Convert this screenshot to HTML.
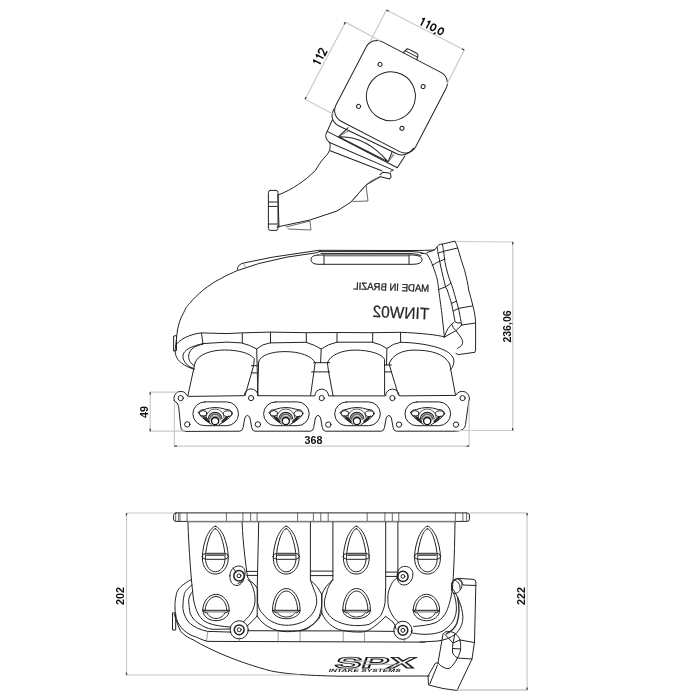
<!DOCTYPE html>
<html><head><meta charset="utf-8">
<style>
html,body{margin:0;padding:0;background:#fff;width:700px;height:700px;overflow:hidden}
svg{display:block;filter:grayscale(1)}
.l{fill:none;stroke:#222;stroke-width:1;stroke-linejoin:round;stroke-linecap:round}
.t{fill:none;stroke:#555;stroke-width:0.6}
.d{fill:none;stroke:#cacaca;stroke-width:1.2}
.tk{fill:none;stroke:#444;stroke-width:1.3}
.dt{font-family:"Liberation Sans",sans-serif;font-weight:bold;font-size:11.7px;fill:#111}
</style></head><body>
<svg width="700" height="700" viewBox="0 0 700 700">
<defs>
 <g id="port">
  <rect class="l" x="-22.8" y="-11.9" width="45.6" height="23.8" rx="11.9"/>
  <path d="M-14,1.2 L-9.5,3.2 L-5.5,7.5 L-6.5,9.5 L-11,6 Z M13.8,1.4 L9.5,3.4 L5.5,7.5 L6.5,9.5 L11,6 Z" fill="#2a2a2a"/>
  <path class="l" d="M-17.4,-1.4 Q-16,-4.3 -11.5,-4.3 Q-6,-6.2 -0.6,-6.3 Q5,-6.2 10.5,-4.3 Q15.5,-4.5 16.8,-0.4 Q14.5,4 9,7.5 L3.5,10.8 M-17.4,-1.4 Q-14.5,4 -9.5,7 L-4.5,10.5"/>
  <ellipse class="l" cx="-12.6" cy="-0.4" rx="3.9" ry="2.8"/>
  <ellipse class="l" cx="12" cy="-0.1" rx="4.3" ry="2.9"/>
  <path d="M-9.6,4.2 A9,9 0 0 1 8.4,4.2" fill="none" stroke="#333" stroke-width="0.8"/>
  <path d="M-7.6,5.5 A7,7 0 0 1 6.4,5.5" fill="none" stroke="#2a2a2a" stroke-width="1.2"/>
  <path d="M-6.2,6 A5.6,5.6 0 0 1 5,6" fill="none" stroke="#6a6a6a" stroke-width="1.8"/>
  <path d="M-4.6,6.5 A4,4 0 0 1 3.4,6.5" fill="none" stroke="#9a9a9a" stroke-width="1.4"/>
  <circle cx="-0.6" cy="7.3" r="3.6" fill="#fff" stroke="#111" stroke-width="1.3"/>
 </g>

 <g id="tear">
  <path class="l" d="M0,-31.5 C2.5,-31.5 6.5,-26 8.65,-21.3 C10.7,-16 12.95,-8 12.95,0 C12.95,10 7,16.4 0,16.4 C-7,16.4 -12.95,10 -12.95,0 C-12.95,-8 -10.7,-16 -8.65,-21.3 C-6.5,-26 -2.5,-31.5 0,-31.5 Z"/>
  <path class="l" d="M0,-29 C2,-29 4.5,-24.5 6,-20.5 C7.8,-15 9.8,-7 9.8,0 C9.8,9 5,14.1 0,14.1 C-5,14.1 -9.8,9 -9.8,0 C-9.8,-7 -7.8,-15 -6,-20.5 C-4.5,-24.5 -2,-29 0,-29 Z"/>
  <path class="l" d="M-13.3,-1.3 Q-12.5,-4.4 -9,-4.4 L9,-4.4 Q12.5,-4.4 13.3,-1.3 M-13.3,-1.3 Q-12.5,1.6 -9,1.6 L9,1.6 Q12.5,1.6 13.3,-1.3"/>
  <path d="M-9,-2.6 L9,-2.6" stroke="#222" stroke-width="1.3"/>
 </g>
 <g id="oval">
  <path class="l" d="M-13.2,2.5 C-13.2,-6 -7,-13.2 0,-13.2 C7,-13.2 13.2,-6 13.2,2.5 C13.2,9 7,13.2 0,13.2 C-7,13.2 -13.2,9 -13.2,2.5 Z"/>
  <path class="l" d="M-10.8,2.5 C-10.8,-4.5 -5.5,-11 0,-11 C5.5,-11 10.8,-4.5 10.8,2.5"/>
  <path d="M-12.5,3.2 L12.5,3.2 L11.5,5.2 L-11.5,5.2 Z" fill="#aaa"/>
  <path d="M-13.5,2.8 L13.5,2.8" stroke="#222" stroke-width="1"/>
  <path class="l" d="M-13.2,3 L-10,5.5 M13.2,3 L10,5.5 M-9,5.2 C-7,9.5 -3,11 0,11 C3,11 7,9.5 9,5.2"/>
 </g>

 <g id="oval2">
  <path class="l" d="M-13.8,2.5 C-13.8,-10 -7,-19 0,-19 C7,-19 13.8,-10 13.8,2.5 C13.8,8 7,11.2 0,11.2 C-7,11.2 -13.8,8 -13.8,2.5 Z"/>
  <path class="l" d="M-11.3,2.5 C-11.3,-8.5 -5.5,-16.5 0,-16.5 C5.5,-16.5 11.3,-8.5 11.3,2.5"/>
  <path d="M-12.5,3.2 L12.5,3.2 L11.5,5.2 L-11.5,5.2 Z" fill="#aaa"/>
  <path d="M-14,2.8 L14,2.8" stroke="#222" stroke-width="1"/>
  <path class="l" d="M-13.8,3 L-10,5.5 M13.8,3 L10,5.5 M-9,5.2 C-7,8.5 -3,9.5 0,9.5 C3,9.5 7,8.5 9,5.2"/>
 </g>
</defs>
<!-- ===== TOP: throttle adapter ===== -->
<g id="top">
 <g transform="translate(390.2,97.6) rotate(27.5)">
  <rect class="l" x="-44.65" y="-45.8" width="90" height="89.4" rx="12"/>
  <path class="l" d="M-44.6,36 C-44.8,44 -40,48.8 -32.8,48.8 L31.8,46.8 C38.5,46.5 42.5,42 44.2,34"/>
  <circle class="l" cx="0" cy="-1.5" r="24.5"/>
  <circle class="l" cx="-24.3" cy="-24.8" r="2"/>
  <circle class="l" cx="24.1" cy="-25" r="2"/>
  <circle class="l" cx="-24" cy="22.4" r="2"/>
  <circle class="l" cx="24.6" cy="21.8" r="2"/>
  <path class="l" d="M-9,-45.8 L-8,-50 Q-7.5,-51.5 -6,-51.5 L3,-51.5 Q5,-51.5 5.5,-49.5 L6,-45.8 M-8,-48.5 L5,-48.5"/>
  <path class="l" d="M-41,46.6 L-40.3,59.3 Q-40.8,66.5 -33,67.8 L36.2,62.9 M-39.7,59 L38.7,59 L40,45 M-28.6,74.9 L26.3,68.8 M36.2,62.9 L34.5,65.2"/>
  <path class="l" d="M-27.7,58.5 Q-4,45 27.8,57.9 M-27.7,58.5 L27.8,57.9 M-27.7,58.5 L-23.3,46.1 M27.8,57.9 L26.8,47.5"/>
  <path class="t" d="M-27.7,58.5 L-21,48 M-27.7,58.5 L-24,50 M27.8,57.9 L30,49 M27.8,57.9 L29,48"/>
  <path class="l" d="M26.5,73 L28,69.5 L35,67 L37.5,70 L36.9,72.5 L28,74.6"/>
 </g>
 <path class="l" d="M329.6,142.5 C331.5,148 329,153 325,157 C321,161 318,166 315.7,170.1 C306,180 292,190 278,195"/>
 <rect class="l" x="268.4" y="190.4" width="9.6" height="40" rx="2"/>
 <path class="l" d="M268.4,202 L277,202 M268.4,206.4 L277,206.4 M268.4,224 L277,224 M278,195 L279,227"/>
 <path class="l" d="M277,227 L310,220 L337,211 L351,202 L366,185 L380,177"/>
 <path class="l" d="M286,227 L310,221 L311,230 L288,229 M351,202 L366,185 L368,201 L353,201.5 M366,185 L371,181 L381,176" style="stroke:#444;stroke-width:0.8"/>

 <!-- dims -->
 <path class="d" d="M386.4,10 L464.3,50 M386.4,10 L370,42 M464.3,50 L447,84"/>
 <path class="d" d="M345.4,22.1 L305,99.3 M345.4,22.1 L380,40.7 M305,99.3 L335,115"/>
 <g transform="translate(420.6,25.4) rotate(27.2)" fill="none" stroke="#111" stroke-width="1.5" stroke-linejoin="round">
  <path d="M-1.6,-6.3 L0.3,-8 L0.3,0 M4.6,-6.3 L6.5,-8 L6.5,0 M16.6,-0.6 L15.6,2"/>
  <ellipse cx="12.1" cy="-4.05" rx="2.25" ry="3.35"/><ellipse cx="20.6" cy="-4.05" rx="2.25" ry="3.35"/>
 </g>
 <g transform="translate(320.7,64) rotate(-62.8)" fill="none" stroke="#111" stroke-width="1.5" stroke-linejoin="round">
  <path d="M-1.6,-6.3 L0.3,-8 L0.3,0 M4.4,-6.3 L6.3,-8 L6.3,0 M9.3,-5.9 C9.4,-7.5 10.4,-8.1 11.6,-8.1 C12.9,-8.1 13.9,-7.3 13.9,-6 C13.9,-4.6 13,-3.7 9.3,-0.1 L14.3,-0.1"/>
 </g>
</g>
<!-- ===== MIDDLE: side view ===== -->
<g id="mid">
 <!-- plenum outline -->
 <path class="l" d="M175.7,346 L176.9,334.3 C177.5,328 180,318 183.7,312.6 C186,307 188,305 190.6,302.3 C194,298 197,295.5 199.7,293.1 C203,290 207,287 210,285.1 C214,282 218,280 221.4,278.3 C227,275 232,273 237.4,270.6 L258.6,263.6 L287.1,257.1 L315.7,252.9 L321.4,251"/>
 <path class="l" d="M237.3,269.5 Q237.5,264 244.3,262.9 L272.9,257.1 L318.6,250.3 L413,250.5 Q425,250.5 434.3,250" stroke-width="1.1"/>
 <path class="t" d="M243.5,263.2 L245.5,267.3"/>
 <path class="l" d="M174,336 L176.5,335.6 L176.5,350.5 L174,351 Z"/>
 <!-- slot -->
 <path class="l" d="M318,255 L413,255 Q422.1,255.5 422.1,259.5 Q422.1,264.3 413,264.3 L318,264.3 Q311,264 311,259.6 Q311,255.3 318,255 Z"/>
 <path class="l" d="M319,251.6 L413,251.6 Q420,251.8 424,253.5 M321,253.6 L412,253.6 Q418,254 421,255.5 M324,255 L324,264.3 M409,255 L409,264.3"/>
 <path class="t" d="M324,256 L409,256"/>
 <!-- right flange -->
 <path class="l" d="M421,253.5 Q425,253 426.9,254 C430,259 432,263 432.9,266 C435,272 436.5,276 437.1,278.9 C438.5,286 438.7,290 438.7,290 C440,300 441.5,310 442.1,315.7 C443,325 444,332 444.3,337.1"/>
 <path class="l" d="M437.1,247.1 C437.5,250 438,253.1 438,253.1 C439,258 440,262 440.6,266 C442.5,274 444,281 445.7,287.4 L447.3,290 C449,296 450.5,300 451.6,303.7 C453,310 454,316 455,321.7 Q456,323.3 461,323"/>
 <path class="l" d="M442.3,244.1 C443,247 443.6,251.4 443.6,251.4 C444,255 444.5,258 444.9,261.7 C446.5,270 448.5,277 450.9,283.1 C452,286 452.8,288 453.3,290 C455,296 457,303 458.4,308 C459.5,313 460.5,318 461,321.7 L461.8,325.1"/>
 <path class="l" d="M427,252.5 Q434,251 436,248.5 Q438,244 442.3,244.1 L455.1,241.1 C456,243 457,246 457.7,248 C460,256 462.5,264 464.6,270.3 C466.5,278 468,284 468.7,290 C470,295 471.5,300 473,306.3 C474.5,312 475.3,317 475.6,321.7 L475.6,350 L474.9,352.3 L458.3,354.6 L456,353.5"/>
 <path class="l" d="M443.1,251.4 L457.7,248 M438,253.1 L443.6,251.4 M432,265.6 Q437,262 440.6,260.9 L444.9,259.1 M438.4,289.6 L446.1,286.6 L450.9,283.1 M451.1,303.7 L456.3,301.1 M453.3,311 L458.4,308.4 L472.6,305.9 M461,325.1 L475.6,323"/>
 <path class="l" d="M444.3,337.1 L455.9,330.7 L461.8,325.1 M444.3,337.1 Q447,327 454.1,322.1 M451.6,324.3 Q453,328 455.9,330.7 Q462,338 462.7,341.4 Q463,346 457.6,348.3"/>
 <!-- collar -->
 <path class="l" d="M175.7,345.7 C178,340 190,334 201.4,332.9 L227,333.6 L241.4,332.9 L270,332.1 L306.7,332.7 L336.4,332.5 L372.6,332.7 L400.5,332.3 C420,333 438,335 444.6,336.9"/>
 <path class="l" d="M201.5,333 L202.9,343.6 M242.3,333 L242.3,342.9 M270.5,332.3 L270.5,342.9 M306.3,332.7 L306.3,342.3 M337,332.5 L337,342.2 M372.7,332.7 L372.7,342.2 M400.6,332.3 L400.6,342.3"/>
 <path class="l" d="M202.9,343.6 L227,342.1 L241.4,342.9 Q250,345 256.7,349 Q262,344 270,342.9 L306,342.3 Q315,345 321.2,349 Q328,344 337,342.2 L372,342.2 Q381,344 386.9,348.5 Q393,343.5 400.5,342.3 C420,342.6 446,347 452,356 C456,361 453,367 450.3,370"/>
 <path class="l" d="M175.7,346 C174,353 176,359 181.4,362.9 C185,366 190,368 194.3,369.3"/>
 <path class="l" d="M202.9,343.6 C192,346 183,350 182.9,356 C183,362 188,367 194,368.5"/>
 <path class="l" d="M203,344.2 C199,345 196.5,346 194.3,347.1 C191,349.5 189,352 188.6,356 C188.5,360 190.5,363.5 194.3,365.7"/>
 <!-- runners -->
 <path class="l" d="M195,362.9 C198,354 212,350 224.3,350 C238,350 250,353 254.3,358.6 L253.6,365.7 M195,362.9 L187.9,395.7 M253.6,365.7 L245,395.7"/>
 <path class="l" d="M258.6,362 C260,355 272,351.6 285,351.6 C300,351.6 312,356 315.2,362.7 M258.6,362 L257.6,395.2 M315.2,362.7 L310.6,395.2"/>
 <path class="l" d="M327.4,362.7 C330,355 342,350.1 354.9,350.1 C370,350.1 382,354 384.6,359.3 L384.6,365 M328.6,371.9 L333.1,395.9 M327.4,362.7 L328.6,371.9 M384.6,365 L384.6,394.7"/>
 <path class="l" d="M389.1,363.9 C392,355 402,350.1 414,350.1 C430,350.1 444,353 449.7,363.9 M391.4,371.9 L398.3,394.7 M389.1,363.9 L391.4,371.9 M449.7,363.9 L455.4,394.7"/>
 <path class="l" d="M256.7,349 L257.9,395.5 M251.4,365.7 L257.9,365.7 M251.4,372.9 L257.9,372.9 M321.2,349 L320.6,362.7 M313.7,362.7 L329.7,362.7 M311.6,371.9 L329.7,371.9 M386.9,348.5 L386.5,365 M384.6,365 L391.4,365 M384.6,371.9 L391.4,371.9"/>
 <!-- flange -->
 <path class="l" d="M174.3,400.7 A6.6,6.6 0 1 1 187.1,395.7 L188.6,396.4 L244.3,395.7 A6.7,6.7 0 0 1 257.9,395.7 L314.9,395.9 A6.7,6.7 0 0 1 328.5,395.9 L385.6,395.9 A6.7,6.7 0 0 1 399.2,395.9 L455.7,395.4 A6.8,6.8 0 1 1 468.7,401.7 L465.5,424.5 Q465,431 455.7,431.2 L396.3,431.2 Q393.8,431.2 393.1,427.5 L391.4,418 Q388.8,412.8 386.2,418 L384.5,427.5 Q383.8,431.2 381.3,431.2 L325.5,431.2 Q323.0,431.2 322.3,427.5 L320.6,418 Q318.0,412.8 315.4,418 L313.7,427.5 Q313.0,431.2 310.5,431.2 L254.9,431.2 Q252.4,431.2 251.7,427.5 L250.0,418 Q247.4,412.8 244.8,418 L243.1,427.5 Q242.4,431.2 239.9,431.2 L185.5,431.4 Q181,431 180.7,426.4 L178.6,406.4 Q178,402.5 174.3,400.7 Z"/>
 <g class="l">
  <circle cx="180.7" cy="398.1" r="2.6"/><circle cx="251.1" cy="398.1" r="2.6"/><circle cx="321.7" cy="398.1" r="2.6"/><circle cx="392.4" cy="398.1" r="2.6"/><circle cx="462.6" cy="398.1" r="2.6"/>
  <circle cx="187.3" cy="424.4" r="2.7"/><circle cx="257.9" cy="424.4" r="2.7"/><circle cx="328.3" cy="424.6" r="2.7"/><circle cx="399" cy="424.6" r="2.7"/><circle cx="456" cy="424.6" r="2.7"/>
 </g>

 <use href="#port" x="215.7" y="413.8"/>
 <use href="#port" x="286.4" y="413.8"/>
 <use href="#port" x="357.5" y="413.8"/>
 <use href="#port" x="427.8" y="413.8"/>
 <g transform="rotate(2.6,400,312)"><g transform="translate(429.2,0) scale(-1,1)" font-family="Liberation Sans, sans-serif" fill="#2a2a2a" stroke="#2a2a2a" stroke-width="0.25">
  <text x="0" y="318.2" font-size="16.5" textLength="56.6" lengthAdjust="spacingAndGlyphs">TINW02</text>
 </g></g>
 <g transform="rotate(1.8,391,287)"><g transform="translate(429.2,0) scale(-1,1)" font-family="Liberation Sans, sans-serif" fill="#222" stroke="#222" stroke-width="0.3">
  <text x="0" y="290.6" font-size="10.2" textLength="75.8" lengthAdjust="spacingAndGlyphs">MADE IN BRAZIL</text>
 </g></g>

 <path class="d" d="M456.6,241.5 L512.7,242 L512.7,430.5 L455.7,430.5"/>
 <text class="dt" transform="translate(511.4,326.5) rotate(-90) scale(0.9,1)" text-anchor="middle">236,06</text>
 <path class="d" d="M150.2,392.2 L177.1,392.2 M150.2,392.2 L150.2,431.2 L184.6,431.2"/>
 <text class="dt" transform="translate(148,412) rotate(-90) scale(0.92,1)" text-anchor="middle">49</text>
 <path class="d" d="M174.4,402.4 L174.4,446.1 L469.1,446.1 L469.1,402.6"/>
 <text class="dt" transform="translate(313.4,443.7) scale(0.92,1)" text-anchor="middle">368</text>
</g>
<!-- ===== BOTTOM: top view ===== -->
<g id="bot">
 <path class="d" d="M527.1,512.9 L527.1,690 M470,512.9 L527.1,512.9 M457,690 L527.1,690"/>
 <text class="dt" transform="translate(525,596) rotate(-90) scale(0.92,1)" text-anchor="middle">222</text>
 <!-- flange -->
 <path class="l" d="M176,512.9 L467,512.9 Q469.4,513 469.4,515 L469.4,519.5 Q469.4,521.4 467,521.4 L176,521.4 Q173.6,521.4 173.6,519 L173.6,515.3 Q173.6,512.9 176,512.9 Z"/>
 <path class="l" style="stroke:#444;stroke-width:0.8" d="M175.7,513 L175.7,521.4 M178.6,513 L178.6,521.4 M180,513 L180,521.4 M187.1,513 L187.1,521.4 M226.4,513 L226.4,521.4 M242.9,513 L242.9,521.4 M250.7,513 L250.7,521.4 M257.1,513 L257.1,521.4 M297.6,513 L297.6,521.4 M313.4,513 L313.4,521.4 M320.8,513 L320.8,521.4 M328.2,513 L328.2,521.4 M367.2,513 L367.2,521.4 M384.9,513 L384.9,521.4 M392.3,513 L392.3,521.4 M398.8,513 L398.8,521.4 M455.4,513 L455.4,521.4 M462.9,513 L462.9,521.4 M466.6,513 L466.6,521.4"/>
 <path d="M187,522.2 L456,522.2" stroke="#bbb" stroke-width="1.2"/>
 <!-- runner 1 -->
 <path class="l" d="M187.9,522.3 C189,550 191,580 193.6,600 C196,612 200,620 207.9,622.9 C214,625.5 222,626.4 230.7,627.1"/>
 <path class="l" d="M242.1,522.3 C243,545 246,566 247.5,577 C253,585 256,595 254.8,603 C253.5,612 248,618 243.2,621.9"/>
 <path class="l" d="M258.7,522.3 L257.2,588.5 L257.2,615.9 M246.5,571.4 L257.5,571.4 M246.8,575.4 L257.5,575.4 M248,580 Q255,583 257.2,588.5 M257.2,615.9 Q252,622 246.9,626.2"/>
 <!-- runner 2 -->
 <path class="l" d="M257.6,589 L257.6,602 C258.5,608 260,611 262.7,613.7 C266,618 270,621 274.3,622.7 C278,624.5 283,625.3 288.4,625.3 C295,625 300,623 303.8,621.4 C308,618.5 312,615 314.1,611.1 C316,607 317,603 316.7,600.8 C316.5,596 315.5,593 314.8,591.9 L310.4,580.3 L310.4,522.3"/>
 <path class="l" d="M257.2,615.9 C260,621 264,624 267.9,626.6 C274,630 280,631.7 287.1,631.7 C295,631.7 301,630.5 306.4,629.1 C312,626 317,621 319.3,616.3 C321,611 321.8,606 321.8,602.1 L321.8,594.4"/>
 <path class="l" d="M332.9,522.3 L332.9,580.3 M310.4,571.1 L332.9,571.1 M310.4,575.6 L332.9,575.6 M310.8,580.3 Q318,586 321.8,594.4 Q325,586 332.5,580.3"/>
 <path class="l" d="M321.8,594.4 L321.8,612.9 M321.8,612.9 Q318,625 300.1,630.9"/>
 <!-- runner 3 -->
 <path class="l" d="M332.1,580.3 C329,586 327,589 327,591.9 C325.5,596 324.4,600 324.4,602.1 C324.4,606 325,609 327,612.4 C330,617 333,619.5 337.3,621.4 C345,625 352,625.6 358,625.6 C363,625.6 366,625 369.3,624.3 C375,621 378,618 380.7,615.7 C383,611 384.5,607 385,602.9 L385.7,587 L385.7,522.3"/>
 <path class="l" d="M321.8,612.9 C324,618 326,621 329.6,624 C333,627 337,629.5 342.4,630.4 C350,632 356,632.2 362,632 C368,631.5 374,628 385.7,616.4"/>
 <path class="l" d="M397.9,522.3 L397.9,577 M385.7,572.1 L397,572.1 M385.7,576.4 L397.5,576.4"/>
 <!-- runner 4 -->
 <path class="l" d="M397.9,577 C394,580 392,582.5 391.4,584.3 C389,589 388,593 387.9,595.7 C387.7,601 388,604 388.6,607.1 C390,611 391.5,614 393.6,617.1 C395.5,619.5 397,621 399.3,622.9"/>
 <path class="l" d="M455,522.3 C454.8,540 454,575 452.1,591.4 C450,603 447.5,610 445,614.3 C442,618.5 439,621 435,622.9 C429,625 421,626 413.6,626.4"/>
 <path class="l" d="M453.6,592.9 C455.5,598 456.6,604 456.4,610 C456,616 454,620.5 450.7,624.3 C447,628 444.5,630 442.1,631.4 C437,633.5 431,634.3 425,634.3 C420,634.3 415,633.5 412.1,632.9"/>
 <path class="l" d="M385.7,616.4 L393,622 Q396,626 396,629"/>
 <!-- bosses -->
 <g class="l">
  <path d="M229.9,575.8 C229.9,569 235,566 239,566 C243.5,566 245.6,569.5 245,574 C244.5,580 241,585.5 237,585.5 C232,585.5 229.9,581 229.9,575.8 Z"/>
  <circle cx="239" cy="575.8" r="5.2" style="stroke-width:1.5"/><circle cx="239" cy="575.8" r="1.9"/>
  <path d="M397,576.4 C397,569 401,566.4 405,566.4 C410,566.4 412.9,570 412.9,574 C412.9,580 409,585 404,585 C399.5,585 397,581 397,576.4 Z"/>
  <circle cx="402.9" cy="576.4" r="5.2" style="stroke-width:1.5"/><circle cx="402.9" cy="576.4" r="1.9"/>
  <circle cx="239.2" cy="629.8" r="9.1"/><circle cx="239.2" cy="629.8" r="4.9" style="stroke-width:1.5"/><circle cx="239.2" cy="629.8" r="2"/>
  <circle cx="402.9" cy="630.3" r="9.1"/><circle cx="402.9" cy="630.3" r="4.9" style="stroke-width:1.5"/><circle cx="402.9" cy="630.3" r="2"/>
 </g>
 <path class="l" d="M243.2,581 L238,583.5 M233,568 L236,572"/>
 <!-- plenum left -->
 <path class="l" d="M191.3,579.5 C183,584 177,589 176.4,594.3 C175,600 175,603 175,605.7 C175,612 175.5,615 176.4,618.6 C178,624 180.5,627 183.6,630 C188,634 192,636 196.4,637.1 C200,639 204,640.5 207.9,641.4 L425,642.1"/>
 <path class="l" d="M192,585 C187,589 184.3,592 184.3,594.3 C183,600 182.9,604 182.9,608.6 C183.5,614 186,619 189.3,622.9 C194,627 200,630 207.9,631.4 L231,632.1 M247.9,630.7 L300.1,630.9 L342.6,630.9 L394.5,631.4 M411.2,631.4 L412,631.4"/>
 <path class="l" d="M192.7,591.5 C190,594 188.6,598 188.6,601.4 C189,606 189.5,609 190,612.9 C192,618 195,621 197.9,622.9 C203,626.5 207,628.5 212.1,629.3 L230.5,629"/>
 <path class="l" d="M174.3,614.3 C176,620 178,626 180.7,631.4 C185,636 189,638 193.6,640 C210,650 240,663 271.4,671 C285,673.8 305,675.5 340,676.2 L429.4,676"/>
 <path class="l" d="M172.9,612.9 L175.7,612.9 L175.7,630 L172.9,630 Z"/>
 <path class="t" d="M207.9,631.4 L206.4,641.4 M239.3,637.5 L239.3,642.1 M278.1,631.1 L278.1,642.1 M300.1,631.1 L300.1,642.1 M343.2,631.1 L343.2,642.1 M364.5,631.1 L364.5,642.1 M404.3,638 L404.3,642.1"/>
 <!-- right flange (bottom view) -->
 <path class="l" d="M451.8,587.6 Q451,580 458.3,578.4 L473.1,579.3 Q475.9,579.6 475.9,582.1 L474.5,642 L472,659 L457,690.5"/>
 <path class="l" d="M458,579 Q462,581 463,585 L475.9,585.5 M460,640 L474.5,642.5 M457.5,658 L472,659"/>
 <path class="l" d="M451.8,587.6 C458,596 462,606 462.9,616.4 C463,624 460,630 455,634.5 C450,638 445,640 437.9,641 L420,642.1"/>
 <path d="M457.5,597 C459.5,606 459.5,615 457,623 C455,628 451.5,631.5 446,634" fill="none" stroke="#333" stroke-width="1.4"/>
 <path class="l" d="M451.8,590 C450.5,584 452,580 456,578.8 C460,578 462.5,580.5 462,585 C461.5,590 458,593 455,593.5 C453,593.5 452,592 451.8,590 Z M454,580 C458,581 460.5,584 460,589"/>
 <path class="l" d="M443.5,633.5 C445,631.5 447,631.3 449,631.5 C452,631.8 454,632.5 455,633.5 C458,636 459.5,638 460,640 C460.8,644 460.8,647 460.5,650 C460,653 459,655 458,657 C456.5,660 455,662.5 453,665 C451.5,667 450,668 449,668.5 C447.5,668.7 446,668.5 445,668 Q441,667 438,663"/>
 <path class="l" d="M455,633.5 L453,643 C452.5,646 452.3,649 452.5,652 C453,654.5 455,656.5 457.5,658 M445,634.5 L453,643 L460,640 M452.8,648.5 L460.6,649 M443,634 L438,663"/>
 <path class="l" d="M438,663 L435.5,663 L428,676 L428.5,685 L443,688.5 L457,690.5 M437.5,665 L429.8,684"/>
 <path class="d" d="M456.4,690 L527,690"/>

 <use href="#tear" x="215.3" y="557.7"/>
 <use href="#tear" x="286.2" y="557.7"/>
 <use href="#tear" x="356.3" y="557.7"/>
 <use href="#tear" x="427.5" y="557.7"/>
 <use href="#oval" x="216" y="607.5"/>
 <use href="#oval2" x="286.3" y="607.5"/>
 <use href="#oval2" x="356.6" y="607.5"/>
 <use href="#oval" x="426.4" y="607.5"/>
 <g transform="translate(330.5,668.4) skewX(-20)">
  <text x="3" y="0" font-family="Liberation Sans, sans-serif" font-weight="bold" font-size="15.5" fill="#f4f4f4" stroke="#1e1e1e" stroke-width="0.9" textLength="80" lengthAdjust="spacingAndGlyphs">SPX</text>
  <path d="M6,-7 L40,-7 M30,-4 L70,-4" stroke="#999" stroke-width="0.6"/>
  <text x="-1" y="3.4" font-family="Liberation Sans, sans-serif" font-weight="bold" font-size="4.6" fill="#222" textLength="72" lengthAdjust="spacingAndGlyphs">INTAKE SYSTEMS</text>
 </g>

 <path class="d" d="M126.5,513 L173.9,513 M126.5,513 L126.5,675 L300,675"/>
 <text class="dt" transform="translate(124.3,595.9) rotate(-90) scale(0.92,1)" text-anchor="middle">202</text>
</g>
 <path class="tk" d="M512.7,242.0 L512.7,244.6 M512.7,430.5 L512.7,427.9 M150.2,392.2 L150.2,394.8 M150.2,431.2 L150.2,428.6 M174.4,446.1 L177.0,446.1 M469.1,446.1 L466.5,446.1 M126.5,513.0 L126.5,515.6 M126.5,675.0 L126.5,672.4 M527.1,512.9 L527.1,515.5 M527.1,690.0 L527.1,687.4 M386.4,10.0 L388.7,11.2 M464.3,50.0 L462.0,48.8 M345.4,22.1 L344.2,24.4 M305.0,99.3 L306.2,97.0"/>
</svg>
</body></html>
